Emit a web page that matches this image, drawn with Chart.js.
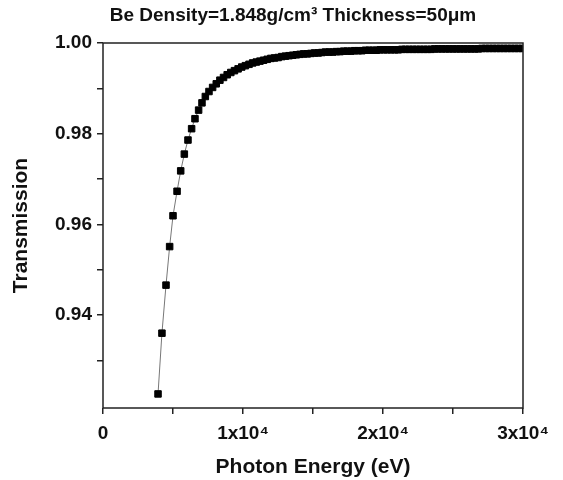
<!DOCTYPE html>
<html>
<head>
<meta charset="utf-8">
<title>Be transmission</title>
<script src="https://cdn.jsdelivr.net/npm/chart.js@4.4.1/dist/chart.umd.min.js"></script>
<style>
  html, body { margin: 0; padding: 0; background: #fff; }
</style>
</head>
<body>
<canvas id="be-chart" width="563" height="480"></canvas>
<script>
const chartTitle = 'Be Density=1.848g/cm³ Thickness=50μm';

// photon energy (eV)
const energy = [
  3930, 4210, 4500, 4760, 5000, 5290, 5550, 5810, 6070, 6330,
  6570, 6830, 7070, 7310, 7570, 7830, 8090, 8350, 8610, 8870,
  9130, 9390, 9650, 9910, 10170, 10430, 10690, 10950, 11210, 11470,
  11730, 11990, 12250, 12510, 12770, 13030, 13290, 13550, 13810, 14070,
  14330, 14590, 14850, 15110, 15370, 15630, 15890, 16150, 16410, 16670,
  16930, 17190, 17450, 17710, 17970, 18230, 18490, 18750, 19010, 19270,
  19530, 19790, 20050, 20310, 20570, 20830, 21090, 21350, 21610, 21870,
  22130, 22390, 22650, 22910, 23170, 23430, 23690, 23950, 24210, 24470,
  24730, 24990, 25250, 25510, 25770, 26030, 26290, 26550, 26810, 27070,
  27330, 27590, 27850, 28110, 28370, 28630, 28890, 29150, 29410, 29670,
  29930
];

const transmission = [
  0.9226, 0.9360, 0.9466, 0.9551, 0.9619, 0.9673, 0.9718, 0.9755, 0.9786, 0.9811,
  0.9833, 0.9852, 0.9868, 0.9882, 0.9893, 0.9902, 0.9910, 0.9918, 0.9924, 0.9930,
  0.9935, 0.9939, 0.9943, 0.9947, 0.9950, 0.9953, 0.9956, 0.9958, 0.9960, 0.9962,
  0.9964, 0.9966, 0.9967, 0.9968, 0.9970, 0.9971, 0.9972, 0.9973, 0.9974, 0.9975,
  0.9976, 0.9976, 0.9977, 0.9978, 0.9978, 0.9979, 0.9980, 0.9980, 0.9980, 0.9981,
  0.9981, 0.9982, 0.9982, 0.9982, 0.9983, 0.9983, 0.9983, 0.9984, 0.9984, 0.9984,
  0.9984, 0.9985, 0.9985, 0.9985, 0.9985, 0.9985, 0.9985, 0.9986, 0.9986, 0.9986,
  0.9986, 0.9986, 0.9986, 0.9986, 0.9986, 0.9986, 0.9987, 0.9987, 0.9987, 0.9987,
  0.9987, 0.9987, 0.9987, 0.9987, 0.9987, 0.9987, 0.9987, 0.9987, 0.9987, 0.9988,
  0.9988, 0.9988, 0.9988, 0.9988, 0.9988, 0.9988, 0.9988, 0.9988, 0.9988, 0.9988,
  0.9988
];

const xTicks = [0, 5000, 10000, 15000, 20000, 25000, 30000];
const xTickLabels = ['0', '', '1x10⁴', '', '2x10⁴', '', '3x10⁴'];
const yTicks = [0.93, 0.94, 0.95, 0.96, 0.97, 0.98, 0.99, 1.00];
const yTickLabels = ['', '0.94', '', '0.96', '', '0.98', '', '1.00'];

const boldFont = (size) => ({ family: '"Liberation Sans", Arial, sans-serif', size: size, weight: 'bold' });

// box around the plot and the title above it
const framePlugin = {
  id: 'frame',
  afterDatasetsDraw(chart) {
    const { ctx, chartArea } = chart;
    ctx.save();
    ctx.strokeStyle = '#222';
    ctx.lineWidth = 1.5;
    ctx.strokeRect(chartArea.left, chartArea.top, chartArea.right - chartArea.left, chartArea.bottom - chartArea.top);
    ctx.restore();
  },
  afterDraw(chart) {
    const ctx = chart.ctx;
    ctx.save();
    ctx.fillStyle = '#111';
    ctx.font = 'bold 19px "Liberation Sans", Arial, sans-serif';
    ctx.textAlign = 'center';
    ctx.textBaseline = 'middle';
    ctx.fillText(chartTitle, 293, 16);
    ctx.restore();
  }
};

new Chart(document.getElementById('be-chart'), {
  type: 'scatter',
  data: {
    datasets: [{
      data: energy.map((e, i) => ({ x: e, y: transmission[i] })),
      showLine: true,
      borderColor: '#777',
      borderWidth: 1,
      tension: 0,
      pointStyle: 'rect',
      pointRadius: 4.6,
      pointBorderWidth: 1,
      pointBackgroundColor: '#000',
      pointBorderColor: '#000'
    }]
  },
  options: {
    responsive: false,
    animation: false,
    layout: { padding: { top: 43, right: 40, left: 0, bottom: 0 } },
    plugins: {
      legend: { display: false },
      tooltip: { enabled: false },
      title: { display: false }
    },
    scales: {
      x: {
        type: 'linear',
        min: 0,
        max: 30000,
        afterBuildTicks: (scale) => { scale.ticks = xTicks.map(v => ({ value: v })); },
        afterFit: (scale) => { scale.height = 72; },
        ticks: {
          callback: (value, index) => xTickLabels[index],
          color: '#111',
          font: boldFont(19),
          padding: 8,
          maxRotation: 0,
          autoSkip: false
        },
        grid: { drawOnChartArea: false, drawTicks: true, tickLength: 6, color: '#222', lineWidth: 1.5 },
        border: { display: false },
        title: {
          display: true,
          text: 'Photon Energy (eV)',
          color: '#111',
          font: boldFont(21),
          padding: { top: 0, bottom: 0 }
        }
      },
      y: {
        type: 'linear',
        min: 0.9195,
        max: 1.0,
        afterBuildTicks: (scale) => { scale.ticks = yTicks.map(v => ({ value: v })); },
        afterFit: (scale) => { scale.width = 103; },
        ticks: {
          callback: (value, index) => yTickLabels[index],
          color: '#111',
          font: boldFont(19),
          padding: 5,
          autoSkip: false
        },
        grid: { drawOnChartArea: false, drawTicks: true, tickLength: 6, color: '#222', lineWidth: 1.5 },
        border: { display: false },
        title: {
          display: true,
          text: 'Transmission',
          color: '#111',
          font: boldFont(21),
          padding: { top: 9, bottom: 0 }
        }
      }
    }
  },
  plugins: [framePlugin]
});
</script>
</body>
</html>
